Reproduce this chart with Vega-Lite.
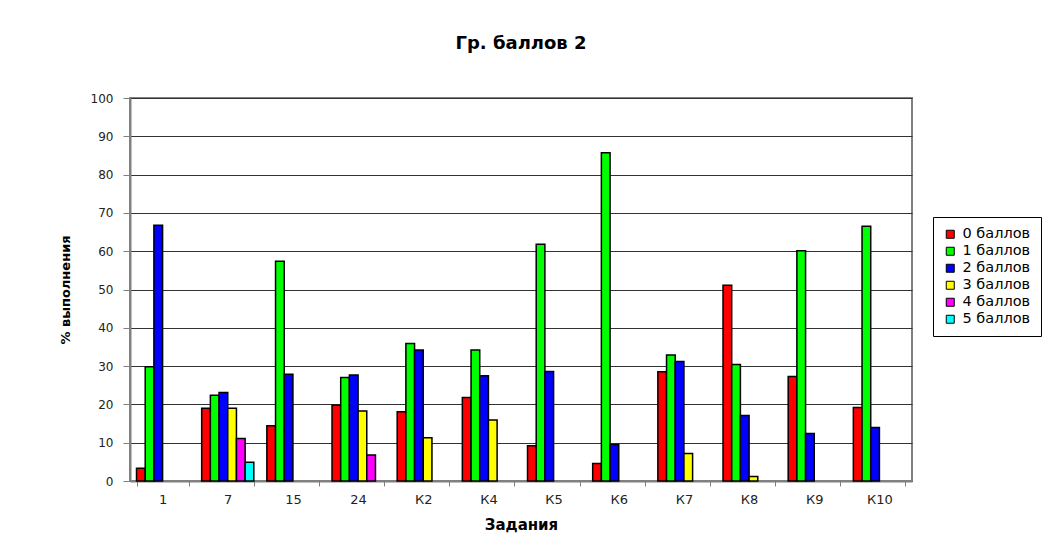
{
  "$schema": "https://vega.github.io/schema/vega-lite/v6.json",
  "width": 782,
  "height": 383,
  "autosize": {"type": "none"},
  "padding": {"left": 130, "top": 98, "right": 152, "bottom": 70},
  "background": "white",
  "title": {
    "text": "Гр. баллов 2",
    "font": "DejaVu Sans",
    "fontSize": 18,
    "fontWeight": "bold",
    "color": "black",
    "offset": 39
  },
  "config": {
    "view": {"stroke": "#808080", "strokeWidth": 2},
    "font": "DejaVu Sans"
  },
  "data": {
    "values": [
      {"task": "1", "series": "0 баллов", "value": 3.3},
      {"task": "1", "series": "1 баллов", "value": 29.8},
      {"task": "1", "series": "2 баллов", "value": 66.8},
      {"task": "7", "series": "0 баллов", "value": 19.0},
      {"task": "7", "series": "1 баллов", "value": 22.4},
      {"task": "7", "series": "2 баллов", "value": 23.1},
      {"task": "7", "series": "3 баллов", "value": 19.0},
      {"task": "7", "series": "4 баллов", "value": 11.1},
      {"task": "7", "series": "5 баллов", "value": 4.9},
      {"task": "15", "series": "0 баллов", "value": 14.4},
      {"task": "15", "series": "1 баллов", "value": 57.4},
      {"task": "15", "series": "2 баллов", "value": 27.9},
      {"task": "24", "series": "0 баллов", "value": 19.8},
      {"task": "24", "series": "1 баллов", "value": 27.0},
      {"task": "24", "series": "2 баллов", "value": 27.7},
      {"task": "24", "series": "3 баллов", "value": 18.3},
      {"task": "24", "series": "4 баллов", "value": 6.8},
      {"task": "К2", "series": "0 баллов", "value": 18.1},
      {"task": "К2", "series": "1 баллов", "value": 35.9},
      {"task": "К2", "series": "2 баллов", "value": 34.2},
      {"task": "К2", "series": "3 баллов", "value": 11.3},
      {"task": "К4", "series": "0 баллов", "value": 21.8},
      {"task": "К4", "series": "1 баллов", "value": 34.2},
      {"task": "К4", "series": "2 баллов", "value": 27.5},
      {"task": "К4", "series": "3 баллов", "value": 15.9},
      {"task": "К5", "series": "0 баллов", "value": 9.2},
      {"task": "К5", "series": "1 баллов", "value": 61.8},
      {"task": "К5", "series": "2 баллов", "value": 28.6},
      {"task": "К6", "series": "0 баллов", "value": 4.6},
      {"task": "К6", "series": "1 баллов", "value": 85.7},
      {"task": "К6", "series": "2 баллов", "value": 9.5},
      {"task": "К7", "series": "0 баллов", "value": 28.5},
      {"task": "К7", "series": "1 баллов", "value": 32.9},
      {"task": "К7", "series": "2 баллов", "value": 31.2},
      {"task": "К7", "series": "3 баллов", "value": 7.2},
      {"task": "К8", "series": "0 баллов", "value": 51.1},
      {"task": "К8", "series": "1 баллов", "value": 30.4},
      {"task": "К8", "series": "2 баллов", "value": 17.1},
      {"task": "К8", "series": "3 баллов", "value": 1.2},
      {"task": "К9", "series": "0 баллов", "value": 27.3},
      {"task": "К9", "series": "1 баллов", "value": 60.1},
      {"task": "К9", "series": "2 баллов", "value": 12.4},
      {"task": "К10", "series": "0 баллов", "value": 19.2},
      {"task": "К10", "series": "1 баллов", "value": 66.5},
      {"task": "К10", "series": "2 баллов", "value": 14.0}
    ]
  },
  "mark": {"type": "bar", "stroke": "black", "strokeWidth": 1.5},
  "encoding": {
    "x": {
      "field": "task",
      "type": "nominal",
      "sort": ["1", "7", "15", "24", "К2", "К4", "К5", "К6", "К7", "К8", "К9", "К10"],
      "scale": {"paddingInner": 0.2, "paddingOuter": 0.1},
      "axis": {
        "title": "Задания",
        "titleFont": "DejaVu Sans",
        "titleFontSize": 15,
        "titleFontWeight": "bold",
        "titleColor": "black",
        "titlePadding": 11,
        "labelAngle": 0,
        "labelFont": "DejaVu Sans",
        "labelFontSize": 13,
        "labelColor": "#222222",
        "labelPadding": 7,
        "tickBand": "extent",
        "tickSize": 5,
        "tickColor": "#808080",
        "domainColor": "#808080",
        "domainWidth": 2,
        "grid": false
      }
    },
    "xOffset": {
      "field": "series",
      "type": "nominal",
      "scale": {"domain": ["0 баллов", "1 баллов", "2 баллов", "3 баллов", "4 баллов", "5 баллов"]}
    },
    "y": {
      "field": "value",
      "type": "quantitative",
      "scale": {"domain": [0, 100], "nice": false},
      "axis": {
        "title": "% выполнения",
        "titleFont": "DejaVu Sans",
        "titleFontSize": 13,
        "titleFontWeight": "bold",
        "titleColor": "black",
        "titlePadding": 18,
        "values": [0, 10, 20, 30, 40, 50, 60, 70, 80, 90, 100],
        "labelFont": "DejaVu Sans",
        "labelFontSize": 12,
        "labelColor": "#222222",
        "labelPadding": 10,
        "tickSize": 7,
        "tickColor": "#808080",
        "domainColor": "#808080",
        "domainWidth": 2,
        "gridColor": "#333333",
        "gridWidth": 1
      }
    },
    "color": {
      "field": "series",
      "type": "nominal",
      "scale": {
        "domain": ["0 баллов", "1 баллов", "2 баллов", "3 баллов", "4 баллов", "5 баллов"],
        "range": ["#FF0000", "#00FF00", "#0000FF", "#FFFF00", "#FF00FF", "#00FFFF"]
      },
      "legend": {
        "title": null,
        "orient": "none",
        "legendX": 803,
        "legendY": 119,
        "strokeColor": "black",
        "fillColor": "white",
        "padding": 10,
        "symbolType": "square",
        "symbolSize": 64,
        "symbolStrokeColor": "black",
        "symbolStrokeWidth": 1,
        "symbolOpacity": 1,
        "labelFont": "DejaVu Sans",
        "labelFontSize": 14.5,
        "labelColor": "black",
        "labelOffset": 5,
        "rowPadding": 2
      }
    }
  }
}
